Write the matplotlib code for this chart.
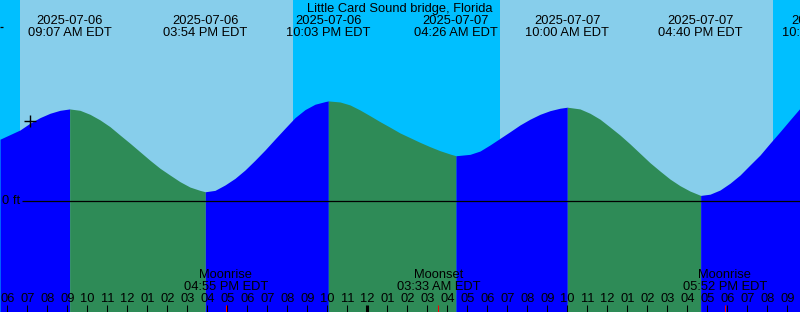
import matplotlib
matplotlib.use("Agg")
import matplotlib.pyplot as plt
import numpy as np

plt.rcParams['font.family'] = ['Liberation Sans', 'DejaVu Sans']

title = "Little Card Sound bridge, Florida"

# hours counted from 2025-07-06 00:00 EDT
t_start, t_end = 5.635, 45.635

# tide height samples (ft)
times = [5.635, 6.635, 7.135, 7.635, 8.135, 8.635, 9.117, 9.635, 10.135, 10.635,
         11.135, 11.635, 12.135, 12.635, 13.135, 13.635, 14.135, 14.635, 15.135, 15.635,
         15.9, 16.385, 16.885, 17.385, 17.885, 18.385, 18.885, 19.385, 19.885, 20.385,
         20.885, 21.385, 21.885, 22.05, 22.635, 23.135, 23.635, 24.135, 24.635, 25.135,
         25.635, 26.135, 26.635, 27.135, 27.635, 28.135, 28.433, 29.135, 29.635, 30.135,
         30.635, 31.135, 31.635, 32.135, 32.635, 33.135, 33.635, 34.0, 34.635, 35.135,
         35.635, 36.135, 36.635, 37.135, 37.635, 38.135, 38.635, 39.135, 39.635, 40.135,
         40.667, 41.135, 41.635, 42.135, 42.635, 43.135, 43.635, 44.135, 44.635, 45.135,
         45.635]
heights = [0.355, 0.408, 0.447, 0.479, 0.504, 0.521, 0.529, 0.521, 0.498, 0.466,
           0.427, 0.379, 0.332, 0.283, 0.234, 0.188, 0.149, 0.111, 0.080, 0.061,
           0.053, 0.061, 0.092, 0.130, 0.178, 0.234, 0.293, 0.356, 0.418, 0.479,
           0.525, 0.556, 0.571, 0.575, 0.569, 0.552, 0.523, 0.490, 0.456, 0.424,
           0.391, 0.364, 0.337, 0.312, 0.289, 0.270, 0.260, 0.268, 0.287, 0.322,
           0.360, 0.398, 0.437, 0.470, 0.498, 0.519, 0.533, 0.539, 0.529, 0.504,
           0.470, 0.425, 0.379, 0.328, 0.274, 0.220, 0.172, 0.126, 0.088, 0.057,
           0.032, 0.039, 0.063, 0.102, 0.149, 0.207, 0.264, 0.332, 0.398, 0.466,
           0.533]

# high / low tide events
event_times = [9.117, 15.9, 22.05, 28.433, 34.0, 40.667, 46.867]
event_dates = ["2025-07-06", "2025-07-06", "2025-07-06", "2025-07-07",
               "2025-07-07", "2025-07-07", "2025-07-07"]
event_labels = ["09:07 AM EDT", "03:54 PM EDT", "10:03 PM EDT", "04:26 AM EDT",
                "10:00 AM EDT", "04:40 PM EDT", "10:52 PM EDT"]

sunrise = [6.633, 30.633]
sunset = [20.283, 44.283]

moon_times = [16.917, 27.55, 41.867]
moon_names = ["Moonrise", "Moonset", "Moonrise"]
moon_labels = ["04:55 PM EDT", "03:33 AM EDT", "05:52 PM EDT"]

H = 312.0
def yf(px):
    # pixel row from top -> axes fraction
    return 1 - px / H

fig = plt.figure(figsize=(8, 3.12), dpi=100)
ax = fig.add_axes([0, 0, 1, 1])
y_lo, y_hi = -0.638, 1.155
ax.set_xlim(t_start, t_end)
ax.set_ylim(y_lo, y_hi)
ax.axis('off')

# night / day background
ax.axvspan(t_start, t_end, color='#00BFFF', lw=0)
for r, s in zip(sunrise, sunset):
    ax.axvspan(r, s, color='#87CEEB', lw=0)

# tide fill, blue when rising, green when falling
t = np.array(times)
h = np.array(heights)
cuts = [0] + [int(np.argmin(abs(t - e))) for e in event_times if e < t_end] + [len(t) - 1]
for i0, i1 in zip(cuts[:-1], cuts[1:]):
    col = '#0000FF' if h[i1] > h[i0] else '#2E8B57'
    ax.fill_between(t[i0:i1 + 1], y_lo, h[i0:i1 + 1], color=col, lw=0)

# 0 ft line
ax.hlines(0, 6.735, t_end, color='black', lw=0.9)
ax.text(0.003, 0, "0 ft", transform=ax.get_yaxis_transform(), ha='left', va='center',
        fontsize=9.3)
ax.hlines(1.0, t_start, t_start + 0.15, color='black', lw=0.9)

ax.plot([7.135], [0.46], marker='+', color='black', ms=9, mew=1)

tx = ax.get_xaxis_transform()
ax.text(0.5, yf(12), title, transform=ax.transAxes, ha='center', va='baseline', fontsize=9.3)
for et, d, lab in zip(event_times, event_dates, event_labels):
    ax.text(et, yf(24), d, transform=tx, ha='center', va='baseline', fontsize=9.3, clip_on=True)
    ax.text(et, yf(36), lab, transform=tx, ha='center', va='baseline', fontsize=9.3, clip_on=True)

# hour ticks
for hr in range(6, 46):
    lab = "%02d" % (hr % 12 if hr % 12 else 12)
    ax.text(hr, yf(301.7), lab, transform=tx, ha='center', va='baseline', fontsize=9.3)
    lw = 2.2 if hr % 24 == 0 else 0.75
    ax.vlines(hr, 0, yf(305), transform=tx, color='black', lw=lw)

for mt, nm, lab in zip(moon_times, moon_names, moon_labels):
    ax.text(mt, yf(278.3), nm, transform=tx, ha='center', va='baseline', fontsize=9.3)
    ax.text(mt, yf(290), lab, transform=tx, ha='center', va='baseline', fontsize=9.3)
    ax.vlines(mt, 0, yf(305), transform=tx, color='red', lw=0.75)

fig.savefig("out.png", dpi=100)
